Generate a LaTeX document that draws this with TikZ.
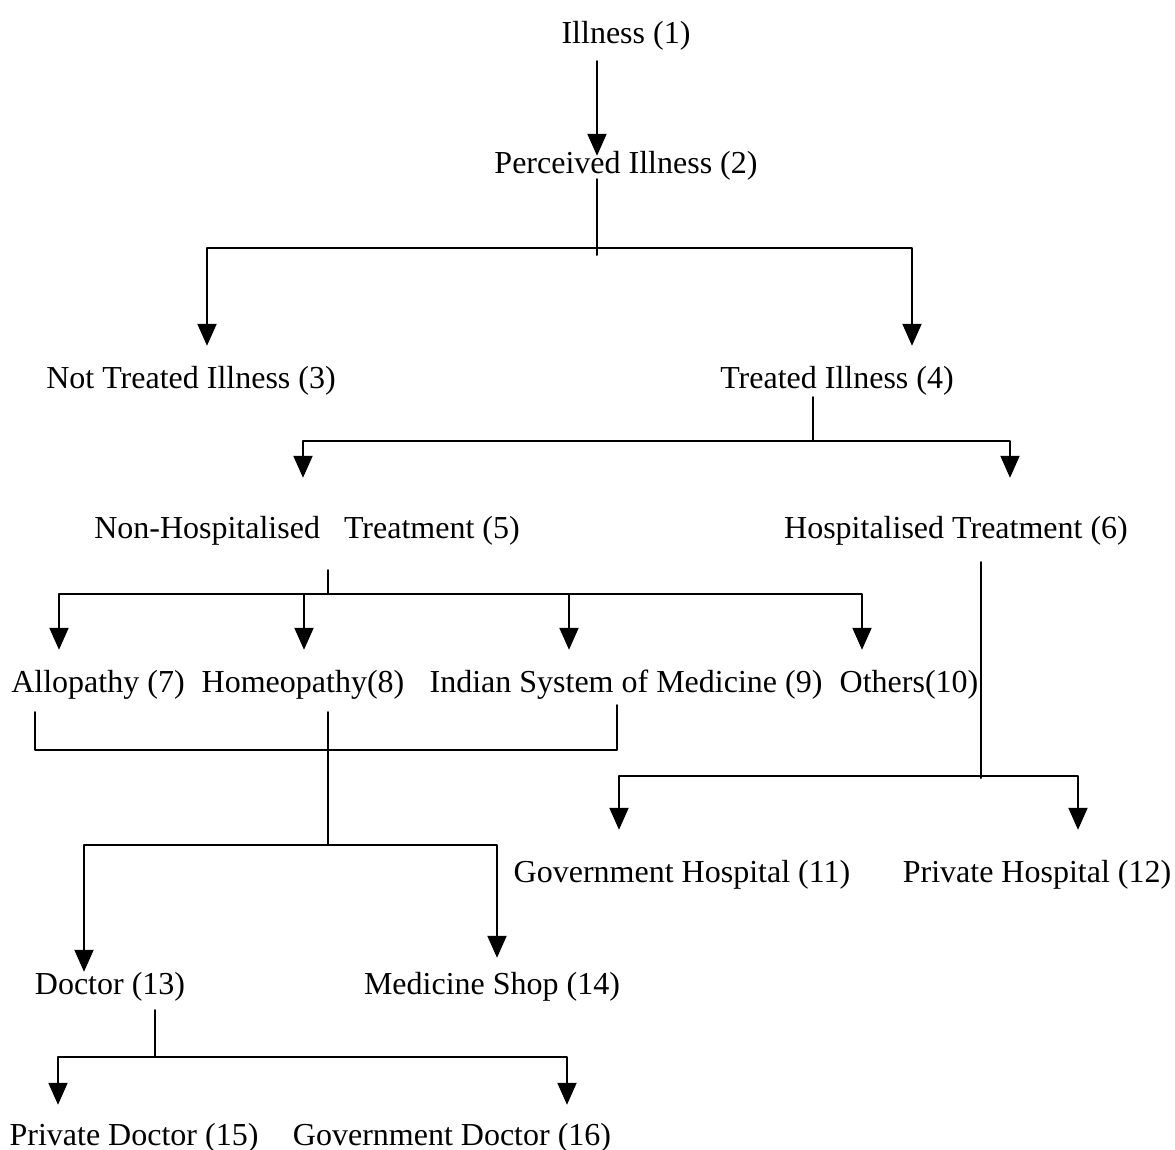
\documentclass[tikz,border=0pt]{standalone}
\usepackage{fontspec}
\setmainfont{Liberation Serif}
\usetikzlibrary{arrows.meta}

\begin{document}
\begin{tikzpicture}[
  x=1pt, y=-1pt,
  line cap=round,
  line join=round,
  >={Triangle[width=19pt,length=22pt]},
  link/.style={line width=2pt},
  arr/.style={link,->},
  lbl/.style={anchor=base, inner sep=0pt, text height=22pt, text depth=7pt,
    font=\fontsize{32}{36}\selectfont}
]
\useasboundingbox (0,0) rectangle (1175,1150);

% labels, placed on their baselines
\node[lbl] (ill)      at (626,44)   {Illness (1)};
\node[lbl] (perc)     at (626,174)  {Perceived Illness (2)};
\node[lbl] (nottr)    at (191,388)  {Not Treated Illness (3)};
\node[lbl] (treat)    at (837,388)  {Treated Illness (4)};
\node[lbl] (nonhosp)  at (307,538)  {Non-Hospitalised\ \ \ Treatment (5)};
\node[lbl] (hosp)     at (956,538)  {Hospitalised Treatment (6)};
\node[lbl] (allo)     at (98,692)   {Allopathy (7)};
\node[lbl] (homeo)    at (303,692)  {Homeopathy(8)};
\node[lbl] (ism)      at (626,692)  {Indian System of Medicine (9)};
\node[lbl] (oth)      at (909,692)  {Others(10)};
\node[lbl] (govhosp)  at (682,882)  {Government Hospital (11)};
\node[lbl] (privhosp) at (1037,882) {Private Hospital (12)};
\node[lbl] (doc)      at (110,994)  {Doctor (13)};
\node[lbl] (shop)     at (492,994)  {Medicine Shop (14)};
\node[lbl] (privdoc)  at (134,1145) {Private Doctor (15)};
\node[lbl] (govdoc)   at (452,1145) {Government Doctor (16)};

% junctions on the bars
\coordinate (jperc)  at (597,248);
\coordinate (jtreat) at (813,441);
\coordinate (jnon)   at (328,594);
\coordinate (jsys)   at (328,750);
\coordinate (jdoc)   at (328,845);
\coordinate (jhosp)  at (981,776);
\coordinate (jpriv)  at (155,1057);

\draw[arr] ([yshift=-10pt]ill.south -| jperc) -- ([yshift=-4pt]perc.north -| jperc);
\draw[link] ([yshift=2pt]perc.south -| jperc) -- ([yshift=-7pt]jperc);
\draw[arr] (jperc) -| ([shift={(16pt,20pt)}]nottr.north);
\draw[arr] (jperc) -| ([shift={(75pt,20pt)}]treat.north);

\draw[link] ([yshift=-2pt]treat.south -| jtreat) -- (jtreat);
\draw[arr] (jtreat) -| ([shift={(-4pt,38pt)}]nonhosp.north);
\draw[arr] (jtreat) -| ([shift={(54pt,38pt)}]hosp.north);

\draw[link] ([yshift=-25pt]nonhosp.south -| jnon) -- (jnon);
\draw[arr] (jnon) -| ([shift={(-39pt,20pt)}]allo.north);
\draw[arr] (jnon) -| ([shift={(1pt,20pt)}]homeo.north);
\draw[arr] (jnon) -| ([shift={(-57pt,20pt)}]ism.north);
\draw[arr] (jnon) -| ([shift={(-47pt,20pt)}]oth.north);

% bracket under 7, 8 and 9
\draw[link] ([shift={(-63pt,-13pt)}]allo.south) |- (jsys) -| ([shift={(-9pt,-6pt)}]ism.south);
\draw[link] ([shift={(25pt,-13pt)}]homeo.south) -- (jdoc);
\draw[arr] (jdoc) -| ([shift={(-26pt,0pt)}]doc.north);
\draw[arr] (jdoc) -| ([shift={(5pt,14pt)}]shop.north);

\draw[link] ([shift={(25pt,-17pt)}]hosp.south) -- ([yshift=-2pt]jhosp);
\draw[arr] (jhosp) -| ([shift={(-63pt,30pt)}]govhosp.north);
\draw[arr] (jhosp) -| ([shift={(41pt,30pt)}]privhosp.north);

\draw[link] ([shift={(45pt,-9pt)}]doc.south) -- (jpriv);
\draw[arr] (jpriv) -| ([shift={(-76pt,18pt)}]privdoc.north);
\draw[arr] (jpriv) -| ([shift={(115pt,18pt)}]govdoc.north);

\end{tikzpicture}
\end{document}
